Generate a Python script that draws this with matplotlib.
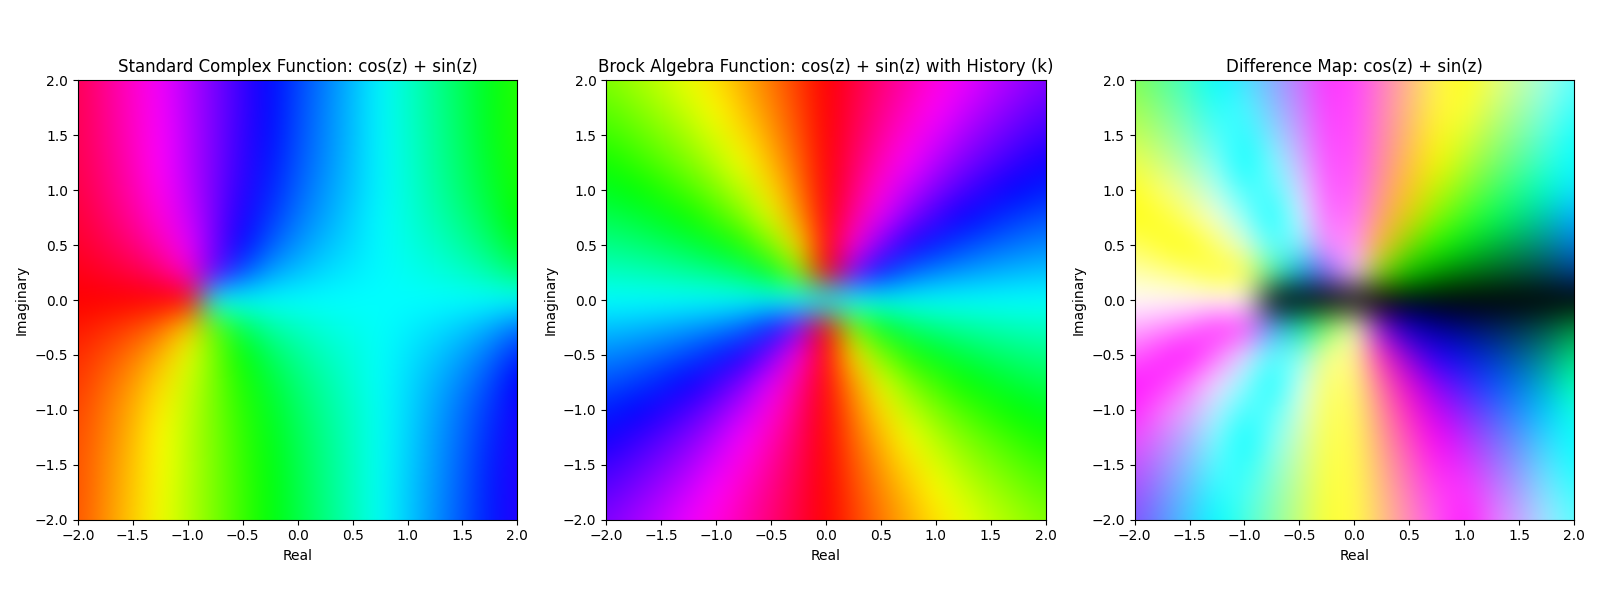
import numpy as np
import matplotlib
matplotlib.use("Agg")
import matplotlib.pyplot as plt
from matplotlib.colors import hsv_to_rgb

# hue in degrees, every 0.25 in x and y
# rows go from y=2 down to y=-2, columns from x=-2 to x=2
x_min, x_max, step = -2.0, 2.0, 0.25

hue_standard = [
    [340, 326, 312, 297, 283, 268, 253, 238, 224, 210, 196, 182, 168, 154, 140, 126, 111],
    [341, 327, 313, 298, 283, 268, 253, 238, 223, 209, 195, 182, 168, 155, 141, 126, 112],
    [341, 328, 314, 299, 284, 268, 252, 237, 222, 208, 195, 182, 169, 156, 142, 127, 112],
    [342, 330, 316, 300, 284, 268, 251, 235, 220, 207, 194, 182, 170, 157, 144, 129, 114],
    [344, 332, 319, 303, 286, 267, 249, 232, 217, 204, 193, 182, 171, 159, 146, 132, 116],
    [347, 336, 324, 308, 289, 267, 245, 227, 212, 201, 190, 181, 172, 162, 151, 137, 120],
    [350, 342, 332, 317, 295, 266, 238, 218, 205, 195, 188, 181, 174, 167, 158, 146, 129],
    [355, 350, 344, 334, 312, 262, 220, 202, 194, 188, 184, 181, 177, 173, 168, 160, 147],
    [0, 0, 0, 0, 0, 180, 180, 180, 180, 180, 180, 180, 180, 180, 180, 180, 180],
    [5, 10, 16, 26, 48, 98, 140, 158, 166, 172, 176, 179, 183, 187, 192, 200, 213],
    [10, 18, 28, 43, 65, 94, 122, 142, 155, 165, 172, 179, 186, 193, 202, 214, 231],
    [13, 24, 36, 52, 71, 93, 115, 133, 148, 159, 170, 179, 188, 198, 209, 223, 240],
    [16, 28, 41, 57, 74, 93, 111, 128, 143, 156, 167, 178, 189, 201, 214, 228, 244],
    [18, 30, 44, 60, 76, 92, 109, 125, 140, 153, 166, 178, 190, 203, 216, 231, 246],
    [19, 32, 46, 61, 76, 92, 108, 123, 138, 152, 165, 178, 191, 204, 218, 233, 248],
    [19, 33, 47, 62, 77, 92, 107, 122, 137, 151, 165, 178, 192, 205, 219, 234, 248],
    [20, 34, 48, 63, 77, 92, 107, 122, 136, 150, 164, 178, 192, 206, 220, 234, 249],
]

hue_brock = [
    [90, 82, 74, 64, 53, 41, 28, 14, 0, 346, 332, 319, 307, 296, 286, 278, 270],
    [98, 90, 81, 71, 59, 46, 32, 16, 0, 344, 328, 314, 301, 289, 279, 270, 262],
    [106, 99, 90, 80, 67, 53, 37, 19, 0, 341, 323, 307, 293, 280, 270, 261, 254],
    [116, 109, 100, 90, 77, 62, 44, 23, 0, 337, 316, 298, 283, 270, 260, 251, 244],
    [127, 121, 113, 103, 90, 74, 53, 28, 0, 332, 307, 286, 270, 257, 247, 239, 233],
    [139, 134, 127, 118, 106, 90, 67, 37, 0, 323, 293, 270, 254, 242, 233, 226, 221],
    [152, 148, 143, 136, 127, 113, 90, 53, 0, 307, 270, 247, 233, 224, 217, 212, 208],
    [166, 164, 161, 157, 152, 143, 127, 90, 0, 270, 233, 217, 208, 203, 199, 196, 194],
    [180, 180, 180, 180, 180, 180, 180, 180, 180, 180, 180, 180, 180, 180, 180, 180, 180],
    [194, 196, 199, 203, 208, 217, 233, 270, 0, 90, 127, 143, 152, 157, 161, 164, 166],
    [208, 212, 217, 224, 233, 247, 270, 307, 0, 53, 90, 113, 127, 136, 143, 148, 152],
    [221, 226, 233, 242, 254, 270, 293, 323, 0, 37, 67, 90, 106, 118, 127, 134, 139],
    [233, 239, 247, 257, 270, 286, 307, 332, 0, 28, 53, 74, 90, 103, 113, 121, 127],
    [244, 251, 260, 270, 283, 298, 316, 337, 0, 23, 44, 62, 77, 90, 100, 109, 116],
    [254, 261, 270, 280, 293, 307, 323, 341, 0, 19, 37, 53, 67, 80, 90, 99, 106],
    [262, 270, 279, 289, 301, 314, 328, 344, 0, 16, 32, 46, 59, 71, 81, 90, 98],
    [270, 278, 286, 296, 307, 319, 332, 346, 0, 14, 28, 41, 53, 64, 74, 82, 90],
]

titles = [
    "Standard Complex Function: cos(z) + sin(z)",
    "Brock Algebra Function: cos(z) + sin(z) with History (k)",
    "Difference Map: cos(z) + sin(z)",
]


def to_rgb(hue):
    h = np.array(hue) / 360.0
    return hsv_to_rgb(np.dstack([h, np.ones(h.shape), np.ones(h.shape)]))


rgb_standard = to_rgb(hue_standard)
rgb_brock = to_rgb(hue_brock)
rgb_diff = np.abs(rgb_standard - rgb_brock)

fig, axes = plt.subplots(1, 3, figsize=(16, 6))
extent = [x_min - step / 2, x_max + step / 2, x_min - step / 2, x_max + step / 2]

for ax, img, title in zip(axes, [rgb_standard, rgb_brock, rgb_diff], titles):
    ax.imshow(img, extent=extent, origin="upper", interpolation="bicubic")
    ax.set_xlim(x_min, x_max)
    ax.set_ylim(x_min, x_max)
    ax.set_title(title)
    ax.set_xlabel("Real")
    ax.set_ylabel("Imaginary")

plt.tight_layout()
plt.savefig("out.png", dpi=100)
